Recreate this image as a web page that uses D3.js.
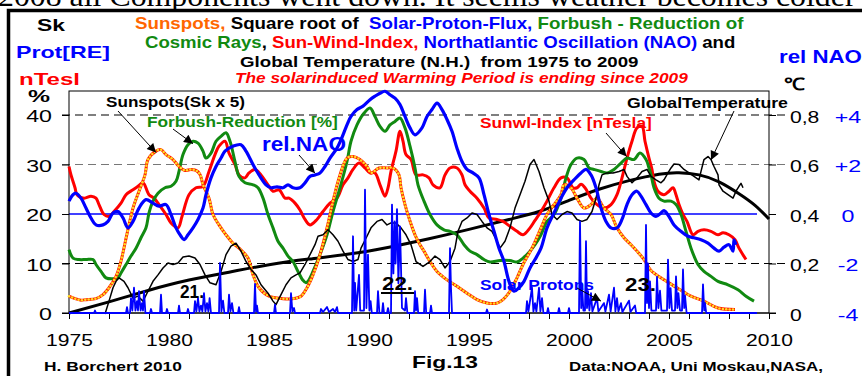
<!DOCTYPE html>
<html><head><meta charset="utf-8">
<script src="https://cdn.jsdelivr.net/npm/d3@7"></script>
<style>
html,body{margin:0;padding:0;background:#fff;}
svg{display:block;}
</style>
</head><body>
<svg id="chart" width="862" height="376"></svg>
<script>
// ---- series: [year, value] ----
// Sunspots (Sk x 5), left axis %
const sunspots = [[1975.0,3.4],[1975.3,2.9],[1975.6,2.6],[1975.85,2.7],[1976.35,2.9],[1976.7,3.7],[1977.0,5.1],[1977.35,7.4],[1977.6,10.5],[1977.9,16.0],[1978.2,21.2],[1978.5,24.6],[1978.8,27.9],[1978.95,31.0],[1979.35,32.7],[1979.6,33.0],[1979.85,32.0],[1980.2,31.0],[1980.5,29.6],[1980.8,28.8],[1981.1,29.0],[1981.35,28.8],[1981.55,28.0],[1981.7,25.9],[1982.0,23.2],[1982.2,19.9],[1982.5,17.8],[1982.85,15.8],[1983.2,14.1],[1983.5,13.1],[1983.95,11.1],[1984.2,7.7],[1984.5,5.1],[1985.0,3.4],[1985.7,2.9],[1986.2,2.9],[1986.6,3.4],[1986.9,5.1],[1987.2,7.7],[1987.55,11.8],[1987.9,17.2],[1988.2,22.6],[1988.55,27.9],[1988.9,31.3],[1989.2,31.6],[1989.55,31.0],[1989.9,29.6],[1990.1,28.3],[1990.5,29.3],[1990.9,29.3],[1991.2,29.3],[1991.5,27.9],[1991.6,25.3],[1991.8,21.9],[1992.0,19.2],[1992.3,15.8],[1992.55,13.8],[1992.75,12.5],[1993.05,10.4],[1993.4,8.4],[1993.9,6.7],[1994.4,5.4],[1994.9,4.0],[1995.4,2.7],[1995.9,2.0],[1996.4,2.0],[1996.7,2.7],[1997.05,4.4],[1997.4,7.1],[1997.7,9.8],[1998.15,13.1],[1998.6,17.2],[1998.9,19.9],[1999.25,21.9],[1999.6,23.9],[1999.75,25.9],[2000.1,25.3],[2000.4,23.2],[2000.75,21.2],[2001.1,21.9],[2001.4,23.2],[2001.75,21.2],[2002.1,19.9],[2002.4,17.2],[2002.75,15.2],[2003.1,13.8],[2003.4,12.5],[2003.75,10.8],[2004.1,8.6],[2004.75,6.7],[2005.4,5.1],[2006.1,3.4],[2006.75,2.4],[2007.45,1.0],[2008.3,0.7]];

// Sun-Wind-Index [nTesla], left axis
const sunWind = [[1975.0,29.6],[1975.1,27.9],[1975.3,25.3],[1975.4,23.9],[1975.75,23.2],[1976.1,23.6],[1976.35,23.2],[1976.5,21.9],[1976.75,19.9],[1977.0,19.5],[1977.25,20.5],[1977.6,22.2],[1977.85,23.9],[1978.2,24.9],[1978.45,25.6],[1978.7,26.3],[1979.0,23.9],[1979.25,23.2],[1979.5,21.9],[1979.85,19.9],[1980.1,18.2],[1980.45,17.2],[1980.65,19.5],[1981.0,23.9],[1981.35,25.3],[1981.7,25.6],[1982.0,28.6],[1982.3,32.0],[1982.5,33.7],[1982.8,34.7],[1983.0,32.3],[1983.3,30.0],[1983.5,27.9],[1983.8,27.3],[1984.0,28.3],[1984.3,29.0],[1984.6,27.9],[1984.95,25.9],[1985.2,24.6],[1985.5,24.9],[1985.8,23.2],[1986.0,23.2],[1986.3,22.2],[1986.55,20.8],[1986.8,18.9],[1987.05,17.8],[1987.4,18.9],[1987.7,20.5],[1988.05,22.2],[1988.4,23.2],[1988.7,25.9],[1988.95,27.3],[1989.2,29.0],[1989.5,30.3],[1989.8,29.3],[1990.05,28.3],[1990.3,28.3],[1990.55,25.9],[1990.8,23.6],[1990.95,25.3],[1991.1,28.6],[1991.35,32.7],[1991.55,36.7],[1991.7,34.7],[1991.85,32.0],[1992.1,31.0],[1992.35,27.9],[1992.7,27.9],[1993.0,27.3],[1993.2,25.9],[1993.55,25.3],[1993.8,27.9],[1994.05,29.3],[1994.4,29.3],[1994.65,27.9],[1994.8,25.9],[1995.05,24.6],[1995.4,23.2],[1995.75,21.2],[1996.0,19.2],[1996.4,18.9],[1996.7,18.5],[1997.05,17.5],[1997.4,16.5],[1997.7,15.8],[1998.05,17.2],[1998.3,18.7],[1998.6,20.5],[1998.9,22.6],[1999.25,25.3],[1999.6,27.3],[1999.9,27.3],[2000.2,25.3],[2000.4,25.3],[2000.6,26.0],[2000.8,25.3],[2001.1,23.2],[2001.4,21.9],[2001.75,21.2],[2002.1,21.9],[2002.4,23.9],[2002.65,27.3],[2002.9,31.3],[2003.15,34.7],[2003.4,37.4],[2003.65,37.7],[2003.8,34.7],[2004.0,31.3],[2004.15,29.0],[2004.25,26.6],[2004.45,24.6],[2004.75,23.9],[2005.0,24.6],[2005.2,25.3],[2005.35,23.9],[2005.5,21.9],[2005.7,19.9],[2005.9,18.5],[2006.2,15.8],[2006.45,16.5],[2006.75,16.8],[2007.1,16.5],[2007.45,15.8],[2007.7,16.2],[2008.0,15.8],[2008.3,14.8],[2008.5,13.1],[2008.85,10.8]];

// Forbush reduction of cosmic rays [%]
const forbush = [[1975.0,12.8],[1975.2,11.1],[1975.5,10.8],[1975.85,10.8],[1976.2,10.8],[1976.35,9.8],[1976.6,8.4],[1976.85,7.1],[1977.2,6.9],[1977.45,7.1],[1977.6,8.1],[1977.85,9.8],[1978.1,11.5],[1978.35,13.1],[1978.6,15.2],[1978.85,17.2],[1979.0,20.2],[1979.2,22.6],[1979.45,24.2],[1979.8,25.3],[1980.1,25.6],[1980.35,26.6],[1980.5,28.6],[1980.7,32.0],[1980.95,34.0],[1981.2,34.7],[1981.45,34.3],[1981.7,32.7],[1981.85,31.3],[1982.1,32.3],[1982.35,34.7],[1982.6,35.7],[1982.85,36.4],[1983.05,34.7],[1983.3,30.6],[1983.5,27.6],[1983.8,26.3],[1984.2,25.9],[1984.45,25.3],[1984.7,23.2],[1984.95,19.9],[1985.2,17.2],[1985.45,14.5],[1985.7,13.1],[1985.95,11.5],[1986.2,10.4],[1986.45,8.4],[1986.7,6.6],[1986.85,6.1],[1986.95,6.4],[1987.2,8.4],[1987.55,11.8],[1987.9,15.8],[1988.2,20.5],[1988.55,25.3],[1988.9,30.6],[1989.1,34.7],[1989.4,38.0],[1989.7,40.1],[1990.05,41.4],[1990.3,39.7],[1990.55,37.7],[1990.8,36.7],[1991.05,38.0],[1991.3,38.7],[1991.55,39.4],[1991.8,37.4],[1992.05,33.7],[1992.3,29.3],[1992.45,25.9],[1992.75,22.6],[1993.05,19.9],[1993.4,17.8],[1993.75,16.8],[1994.05,16.5],[1994.4,15.8],[1994.75,13.8],[1995.05,12.5],[1995.4,11.8],[1995.75,10.8],[1996.05,10.3],[1996.55,10.6],[1997.05,10.6],[1997.4,10.3],[1997.7,11.1],[1998.05,12.5],[1998.3,13.8],[1998.6,15.8],[1998.9,18.5],[1999.25,19.9],[1999.6,23.2],[1999.85,27.3],[2000.1,30.0],[2000.4,31.3],[2000.75,31.0],[2001.0,29.3],[2001.25,29.0],[2001.6,28.6],[2001.9,28.3],[2002.25,29.0],[2002.6,30.3],[2002.9,31.3],[2003.25,31.0],[2003.55,32.3],[2003.85,31.0],[2004.0,29.3],[2004.1,27.9],[2004.25,25.3],[2004.5,23.2],[2004.75,22.6],[2005.1,22.6],[2005.35,21.9],[2005.6,19.9],[2005.85,16.5],[2006.1,13.1],[2006.45,9.8],[2006.75,8.4],[2007.1,7.4],[2007.45,6.4],[2007.95,5.7],[2008.45,4.7],[2008.85,3.4],[2009.25,2.4]];

// North Atlantic Oscillation, relative units (right blue axis)
const nao = [[1975.0,0.52],[1975.2,0.78],[1975.35,0.84],[1975.6,0.64],[1975.85,0.24],[1976.1,-0.16],[1976.35,-0.44],[1976.7,-0.44],[1976.95,-0.3],[1977.2,0.04],[1977.45,0.1],[1977.7,-0.16],[1977.95,-0.56],[1978.2,-0.3],[1978.5,0.24],[1978.85,0.58],[1979.2,0.44],[1979.5,0.32],[1979.85,0.38],[1980.1,-0.02],[1980.35,-0.56],[1980.6,-0.9],[1980.75,-1.04],[1980.95,-0.84],[1981.2,-0.56],[1981.45,-0.22],[1981.7,0.24],[1981.85,0.78],[1982.1,1.46],[1982.35,1.92],[1982.6,2.26],[1982.8,2.54],[1983.2,2.74],[1983.6,2.8],[1983.85,2.54],[1984.2,2.0],[1984.5,1.58],[1984.85,1.18],[1985.1,1.06],[1985.4,1.1],[1985.7,1.06],[1985.95,1.18],[1986.2,1.06],[1986.55,1.06],[1986.8,1.26],[1987.05,1.52],[1987.3,1.58],[1987.55,1.66],[1987.8,1.92],[1988.05,2.26],[1988.4,2.66],[1988.6,3.0],[1988.9,3.6],[1989.1,3.94],[1989.4,4.22],[1989.7,4.36],[1990.05,4.62],[1990.3,4.76],[1990.55,4.88],[1990.8,4.96],[1991.05,4.82],[1991.3,4.68],[1991.55,4.42],[1991.8,3.94],[1992.05,3.48],[1992.3,3.2],[1992.65,3.48],[1992.9,3.94],[1993.15,4.22],[1993.4,4.48],[1993.65,4.22],[1993.9,3.82],[1994.15,3.34],[1994.4,2.66],[1994.65,2.12],[1994.9,1.8],[1995.2,1.66],[1995.5,1.46],[1995.75,0.78],[1996.0,-0.02],[1996.25,-0.7],[1996.5,-1.38],[1996.75,-1.92],[1997.0,-2.72],[1997.25,-3.12],[1997.5,-2.98],[1997.75,-2.72],[1998.05,-2.18],[1998.3,-1.84],[1998.6,-1.38],[1998.9,-0.56],[1999.25,0.04],[1999.6,0.64],[1999.9,1.06],[2000.25,1.38],[2000.6,1.66],[2000.85,1.8],[2001.1,1.58],[2001.35,1.06],[2001.6,0.24],[2001.85,-0.3],[2002.1,-0.56],[2002.4,-0.56],[2002.65,-0.22],[2002.9,0.38],[2003.15,0.78],[2003.4,0.92],[2003.6,0.72],[2003.85,0.38],[2004.1,0.04],[2004.35,-0.1],[2004.6,0.04],[2004.75,0.14],[2005.0,-0.1],[2005.25,-0.44],[2005.6,-0.7],[2005.95,-0.9],[2006.25,-0.96],[2006.6,-1.04],[2006.95,-1.18],[2007.25,-1.38],[2007.5,-1.5],[2007.75,-1.34],[2008.0,-1.24],[2008.2,-1.5],[2008.25,-1.04],[2008.35,-1.24]];

// Global temperature N.H. [°C]
const temperature = [[1976.8,-0.004],[1977.0,0.048],[1977.2,0.102],[1977.35,0.128],[1977.5,0.142],[1977.75,0.128],[1977.95,0.102],[1978.2,0.06],[1978.45,0.068],[1978.7,0.048],[1978.95,0.088],[1979.2,0.128],[1979.45,0.154],[1979.7,0.182],[1979.95,0.202],[1980.2,0.196],[1980.45,0.202],[1980.7,0.226],[1981.0,0.23],[1981.3,0.222],[1981.55,0.196],[1981.8,0.154],[1982.05,0.122],[1982.35,0.114],[1982.6,0.168],[1982.85,0.236],[1983.1,0.27],[1983.35,0.282],[1983.6,0.25],[1983.85,0.208],[1984.1,0.176],[1984.35,0.154],[1984.6,0.114],[1984.95,0.08],[1985.2,0.048],[1985.35,0.034],[1985.6,0.074],[1985.85,0.114],[1986.1,0.142],[1986.35,0.154],[1986.55,0.162],[1986.8,0.196],[1987.05,0.236],[1987.3,0.276],[1987.45,0.31],[1987.7,0.316],[1987.95,0.336],[1988.2,0.316],[1988.45,0.29],[1988.7,0.25],[1988.95,0.216],[1989.2,0.208],[1989.45,0.216],[1989.6,0.262],[1989.9,0.31],[1990.1,0.344],[1990.4,0.37],[1990.65,0.378],[1990.9,0.356],[1991.1,0.364],[1991.35,0.364],[1991.6,0.344],[1991.85,0.316],[1992.1,0.276],[1992.35,0.208],[1992.7,0.188],[1993.05,0.208],[1993.3,0.23],[1993.55,0.216],[1993.8,0.182],[1994.05,0.208],[1994.3,0.262],[1994.45,0.33],[1994.65,0.37],[1994.9,0.384],[1995.15,0.404],[1995.4,0.398],[1995.65,0.37],[1995.9,0.344],[1996.15,0.33],[1996.4,0.29],[1996.55,0.262],[1996.8,0.29],[1997.05,0.344],[1997.3,0.424],[1997.55,0.478],[1997.8,0.532],[1998.05,0.6],[1998.25,0.62],[1998.5,0.572],[1998.75,0.506],[1999.0,0.452],[1999.15,0.398],[1999.4,0.378],[1999.65,0.398],[1999.9,0.41],[2000.15,0.404],[2000.4,0.378],[2000.65,0.37],[2000.9,0.378],[2001.15,0.41],[2001.35,0.464],[2001.5,0.518],[2001.65,0.558],[2001.9,0.566],[2002.2,0.566],[2002.5,0.572],[2002.75,0.58],[2002.9,0.552],[2003.15,0.526],[2003.4,0.546],[2003.65,0.572],[2003.9,0.58],[2004.1,0.552],[2004.35,0.538],[2004.6,0.526],[2004.75,0.538],[2004.95,0.566],[2005.1,0.586],[2005.25,0.602],[2005.5,0.6],[2005.75,0.58],[2006.0,0.566],[2006.25,0.552],[2006.5,0.538],[2006.6,0.572],[2006.75,0.62],[2006.95,0.632],[2007.1,0.62],[2007.25,0.592],[2007.45,0.558],[2007.5,0.518],[2007.7,0.492],[2007.95,0.478],[2008.2,0.464],[2008.35,0.492],[2008.5,0.512],[2008.6,0.524],[2008.7,0.506]];

// Temperature trend curve [°C]
const tempTrend = [[1975.0,0.0],[1977.0,0.045],[1979.0,0.092],[1981.0,0.133],[1983.0,0.165],[1985.0,0.195],[1987.0,0.218],[1989.0,0.238],[1991.0,0.266],[1993.0,0.3],[1995.0,0.338],[1997.0,0.378],[1998.5,0.41],[2000.0,0.455],[2001.5,0.5],[2003.0,0.535],[2004.5,0.561],[2005.5,0.567],[2006.5,0.558],[2007.5,0.53],[2008.5,0.482],[2009.3,0.435],[2010.0,0.38]];

// Solar proton flux (square root), left axis
const protons = [[1975.0,0],[1976.25,0],[1976.3,0.5],[1976.35,0],[1977.85,0],[1977.9,1.2],[1977.95,0],[1978.05,0],[1978.1,3.0],[1978.17,0.5],[1978.25,5.1],[1978.32,0.5],[1978.4,2.4],[1978.45,0.5],[1978.5,4.4],[1978.58,0.5],[1978.65,2.0],[1978.7,0.5],[1978.75,4.4],[1978.82,0],[1979.05,0],[1979.1,0.8],[1979.15,0],[1979.55,0],[1979.6,3.7],[1979.65,0],[1979.85,0],[1979.9,0.8],[1979.95,0],[1980.45,0],[1980.5,1.5],[1980.55,0],[1980.9,0],[1980.95,0.8],[1981.0,0],[1981.25,0],[1981.3,2.4],[1981.37,0.3],[1981.45,3.0],[1981.52,0.3],[1981.6,1.5],[1981.67,0.3],[1981.75,4.0],[1981.82,0.3],[1981.9,2.0],[1981.97,0.3],[1982.03,3.0],[1982.1,0],[1982.5,0],[1982.55,10.1],[1982.62,0.3],[1982.7,2.5],[1982.77,0],[1982.95,0],[1983.0,3.7],[1983.07,0.3],[1983.15,2.0],[1983.22,0],[1983.45,0],[1983.5,1.2],[1983.55,0],[1984.25,0],[1984.3,5.9],[1984.35,0.3],[1984.4,1.5],[1984.45,0],[1985.25,0],[1985.3,1.7],[1985.35,0],[1986.05,0],[1986.1,4.0],[1986.17,0.3],[1986.25,1.0],[1986.3,0],[1987.55,0],[1987.6,0.8],[1987.7,0.2],[1987.9,1.2],[1988.0,0.2],[1988.2,0.8],[1988.3,0.2],[1988.4,1.2],[1988.45,0],[1989.15,0],[1989.2,15.5],[1989.26,0.5],[1989.3,6.1],[1989.36,0.5],[1989.5,7.7],[1989.56,0.5],[1989.75,0.5],[1989.8,24.9],[1989.87,1],[1989.95,11.8],[1990.02,0.5],[1990.08,2.4],[1990.14,0],[1990.4,0],[1990.45,4.4],[1990.52,0],[1990.65,0],[1990.7,2.0],[1990.75,0],[1990.9,0],[1990.95,1.0],[1991.0,0],[1991.1,0],[1991.15,21.9],[1991.22,8],[1991.28,18.5],[1991.33,10],[1991.4,21.0],[1991.47,6],[1991.55,17.5],[1991.65,1],[1991.8,0.5],[1991.85,3.0],[1991.92,0],[1992.25,0],[1992.3,4.4],[1992.35,0.5],[1992.4,3.0],[1992.46,0],[1992.75,0],[1992.8,4.7],[1992.86,0],[1993.05,0],[1993.1,1.5],[1993.15,0],[1994.0,0],[1994.05,13.1],[1994.1,5],[1994.15,0],[1995.85,0],[1995.9,0.7],[1995.95,0],[1997.85,0],[1997.9,2.4],[1997.97,0.3],[1998.15,5.1],[1998.22,0.3],[1998.3,2.0],[1998.37,0.3],[1998.5,5.1],[1998.57,0.3],[1998.65,3.0],[1998.72,0],[1998.9,0],[1998.95,1.0],[1999.0,0],[1999.45,0],[1999.5,1.0],[1999.55,0],[1999.95,0],[2000.0,1.0],[2000.05,0],[2000.5,0],[2000.55,18.5],[2000.61,1],[2000.66,5],[2000.72,0.5],[2000.8,0.5],[2000.85,14.5],[2000.9,1],[2000.95,4.4],[2001.02,0.5],[2001.1,4.0],[2001.17,0.3],[2001.4,3.0],[2001.47,0.3],[2001.75,2.0],[2001.82,0.3],[2002.0,3.7],[2002.08,0.3],[2002.25,5.1],[2002.32,0.3],[2002.4,3.0],[2002.47,0.3],[2002.6,2.0],[2002.67,0.2],[2003.0,2.5],[2003.07,0.2],[2003.3,1.5],[2003.36,0],[2003.8,0],[2003.85,17.8],[2003.9,2],[2003.95,10],[2004.0,1],[2004.05,6.4],[2004.12,0.5],[2004.35,0.5],[2004.4,7.3],[2004.47,1],[2004.55,4.5],[2004.62,0.5],[2004.9,0.5],[2004.95,10.8],[2005.02,1],[2005.08,5],[2005.15,0.5],[2005.3,0.5],[2005.35,7.4],[2005.42,1],[2005.47,4],[2005.55,0.5],[2005.65,0.5],[2005.7,8.8],[2005.76,1],[2005.8,3.5],[2005.88,0],[2006.65,0],[2006.7,5.8],[2006.76,0.5],[2006.8,2],[2006.86,0],[2009.4,0]];

// ---- axes ----
const leftTicks = [0, 10, 20, 30, 40];
const tempTicks = [0, 0.2, 0.4, 0.6, 0.8];
const naoTicks = [-4, -2, 0, 2, 4];
const yearTicks = d3.range(1975, 2011);
const yearLabels = [1975, 1980, 1985, 1990, 1995, 2000, 2005, 2010];

const SANS = '"Liberation Sans", Arial, Helvetica, sans-serif';
const SERIF = '"Liberation Serif", "Times New Roman", serif';
const C = {blue: "#0000ff", red: "#ff0000", green: "#118a11", orange: "#ff6600", black: "#000"};

const svg = d3.select("#chart");

const x = d3.scaleLinear().domain([1975, 2010]).range([69, 769]);
const y = d3.scaleLinear().domain([0, 40]).range([313, 115]);
const yT = d3.scaleLinear().domain([0, 0.8]).range([313, 115]);
const yN = d3.scaleLinear().domain([-4, 4]).range([313, 115]);

// text helper: fits a (multi-coloured) string into a given width by horizontal scaling
function label(parent, x0, y0, parts, o) {
  const t = parent.append("text")
    .attr("font-family", o.family || SANS)
    .attr("font-size", o.size)
    .attr("font-weight", o.weight || "bold")
    .attr("font-style", o.style || "normal")
    .style("white-space", "pre");
  if (typeof parts === "string") parts = [[parts, o.fill || C.black]];
  parts.forEach(([s, c]) => t.append("tspan").attr("fill", c).text(s));
  const w = t.node().getComputedTextLength();
  const sx = o.sx || (o.width ? o.width / w : 1);
  let left = x0;
  if (o.anchor === "end") left = x0 - w * sx;
  else if (o.anchor === "middle") left = x0 - w * sx / 2;
  t.attr("transform", `translate(${left},${y0}) scale(${sx},1)`);
  return t;
}

// headline above the frame (runs off the top)
label(svg, -2, 6, "2008 all Components went down. It seems weather becomes colder",
  {family: SERIF, size: 30, weight: "normal", width: 858});

// outer frame
svg.append("path").attr("d", "M8.5,376 V10.5 H862")
  .attr("fill", "none").attr("stroke", "#000").attr("stroke-width", 3.5);

// headings
label(svg, 135, 29, [["Sunspots,", C.orange], [" Square root of  ", C.black], ["Solar-Proton-Flux,", C.blue], [" Forbush - Reduction of", C.green]], {size: 16, width: 609});
label(svg, 145, 47.5, [["Cosmic Rays", C.green], [", ", C.black], ["Sun-Wind-Index,", C.red], [" Northatlantic Oscillation (NAO)", C.blue], [" and", C.black]], {size: 16, width: 591});
label(svg, 240, 66.5, "Global Temperature (N.H.)  from 1975 to 2009", {size: 15, width: 399});
label(svg, 235, 82.5, "The solarinduced Warming Period is ending since 2009", {size: 14, style: "italic", fill: C.red, width: 453});

// axis titles
label(svg, 37, 30.5, "Sk", {size: 17, width: 28});
label(svg, 16, 58, "Prot[RE]", {size: 17, fill: C.blue, width: 94});
label(svg, 19, 84.5, "nTesl", {size: 17, fill: C.red, width: 61});
label(svg, 28, 102, "%", {size: 16, width: 22});
label(svg, 779, 63, "rel NAO", {size: 18, fill: C.blue, width: 83});
label(svg, 784, 90, "\u2103", {size: 17, width: 21});

// gridlines
const grid = svg.append("g");
[[40, "#000"], [30, "#777"], [10, "#000"]].forEach(([v, col]) => {
  grid.append("line").attr("x1", 62).attr("x2", 785).attr("y1", y(v)).attr("y2", y(v))
    .attr("stroke", col).attr("stroke-width", 1.2).attr("stroke-dasharray", "8,5");
});
// NAO zero line
svg.append("line").attr("x1", x(1975)).attr("x2", x(2009.4)).attr("y1", yN(0)).attr("y2", yN(0))
  .attr("stroke", C.blue).attr("stroke-width", 1.6);

// plot frame
svg.append("rect").attr("x", 69).attr("y", 91).attr("width", 700).attr("height", 222)
  .attr("fill", "none").attr("stroke", "#000").attr("stroke-width", 1);

// left axis
const gL = svg.append("g").attr("transform", "translate(69,0)")
  .call(d3.axisLeft(y).tickValues(leftTicks).tickSize(7).tickFormat(d3.format("d")));
gL.select(".domain").remove();
gL.selectAll("text").attr("x", 0).attr("dy", null).attr("text-anchor", "end")
  .attr("font-family", SANS).attr("font-size", 16).attr("fill", "#000")
  .attr("transform", "translate(-17,6.5) scale(1.45,1)");

// right temperature axis
const tFmt = d => d === 0 ? "0" : d.toFixed(1).replace(".", ",");
const gR = svg.append("g").attr("transform", "translate(769,0)")
  .call(d3.axisRight(yT).tickValues(tempTicks).tickSize(7).tickFormat(tFmt));
gR.select(".domain").remove();
gR.selectAll("text").attr("x", 0).attr("dy", null).attr("text-anchor", "start")
  .attr("font-family", SANS).attr("font-size", 16).attr("fill", "#000")
  .attr("transform", "translate(21,7) scale(1.32,1)");

// NAO axis labels
const nFmt = d => d > 0 ? "+" + d : d < 0 ? "-" + (-d) : "0";
const gN = svg.append("g").attr("transform", "translate(769,0)")
  .call(d3.axisRight(yN).tickValues(naoTicks).tickSize(0).tickFormat(nFmt));
gN.select(".domain").remove();
gN.selectAll("line").remove();
gN.selectAll("text").attr("x", 0).attr("dy", null).attr("text-anchor", "middle")
  .attr("font-family", SANS).attr("font-size", 16).attr("fill", C.blue)
  .attr("transform", "translate(79,7) scale(1.45,1)");

// bottom axis
const gB = svg.append("g").attr("transform", "translate(0,313)")
  .call(d3.axisBottom(x).tickValues(yearTicks).tickSize(6)
    .tickFormat(d => yearLabels.includes(d) ? String(d) : ""));
gB.select(".domain").attr("d", "M62,0H776");
gB.selectAll("text").attr("y", 0).attr("dy", null).attr("text-anchor", "middle")
  .attr("font-family", SANS).attr("font-size", 17).attr("fill", "#000")
  .attr("transform", "translate(0,33) scale(1.24,1)");

// ---- series ----
const lineL = d3.line().x(d => x(d[0])).y(d => y(d[1]));
const lineT = d3.line().x(d => x(d[0])).y(d => yT(d[1]));
const lineN = d3.line().x(d => x(d[0])).y(d => yN(d[1]));
const smooth = d3.curveCatmullRom.alpha(0.5);

const plot = svg.append("g");

plot.append("path").datum(tempTrend).attr("d", lineT.curve(d3.curveNatural))
  .attr("fill", "none").attr("stroke", "#000").attr("stroke-width", 3);

plot.append("path").datum(sunWind).attr("d", d3.line().x(d => x(d[0])).y(d => y(d[1])).curve(smooth))
  .attr("fill", "none").attr("stroke", C.red).attr("stroke-width", 3).attr("stroke-linejoin", "round");

plot.append("path").datum(forbush).attr("d", d3.line().x(d => x(d[0])).y(d => y(d[1])).curve(smooth))
  .attr("fill", "none").attr("stroke", C.green).attr("stroke-width", 3).attr("stroke-linejoin", "round");

// sunspots: red line threaded with yellow beads
const spotPath = plot.append("path").datum(sunspots)
  .attr("d", d3.line().x(d => x(d[0])).y(d => y(d[1])).curve(smooth))
  .attr("fill", "none").attr("stroke", "#ff2200").attr("stroke-width", 3);
const sp = spotPath.node(), spLen = sp.getTotalLength();
const beads = d3.range(0, spLen, 3.4).map(l => sp.getPointAtLength(l));
plot.append("g").selectAll("circle").data(beads).join("circle")
  .attr("cx", p => p.x).attr("cy", p => p.y).attr("r", 1.25)
  .attr("fill", "#ffdd22");

plot.append("path").datum(temperature).attr("d", d3.line().x(d => x(d[0])).y(d => yT(d[1])))
  .attr("fill", "none").attr("stroke", "#000").attr("stroke-width", 1.5).attr("stroke-linejoin", "round");

plot.append("path").datum(nao).attr("d", lineN.curve(smooth))
  .attr("fill", "none").attr("stroke", C.blue).attr("stroke-width", 3.2).attr("stroke-linejoin", "round");

plot.append("path").datum(protons).attr("d", lineL)
  .attr("fill", "none").attr("stroke", C.blue).attr("stroke-width", 1.8).attr("stroke-linejoin", "round");

// ---- annotations ----
const defs = svg.append("defs");
defs.append("marker").attr("id", "arrow").attr("viewBox", "0 0 10 10")
  .attr("refX", 10).attr("refY", 5).attr("markerWidth", 11).attr("markerHeight", 9)
  .attr("markerUnits", "userSpaceOnUse").attr("orient", "auto")
  .append("path").attr("d", "M0,0L10,5L0,10z").attr("fill", "#000");

function arrow(x1, y1, x2, y2) {
  svg.append("line").attr("x1", x1).attr("y1", y1).attr("x2", x2).attr("y2", y2)
    .attr("stroke", "#000").attr("stroke-width", 1).attr("marker-end", "url(#arrow)");
}

label(svg, 106, 107, "Sunspots(Sk x 5)", {size: 15, width: 139});
arrow(118, 111, x(1979.35), y(32.4));
label(svg, 147, 127, "Forbush-Reduction [%]", {size: 15, fill: C.green, width: 191});
arrow(173, 129, x(1981.2), y(34.2));
label(svg, 262, 151, "rel.NAO", {size: 20, fill: C.blue, width: 84});
arrow(299, 155, x(1987.3), yN(1.65));
label(svg, 480, 128, "Sunwl-Index [nTesla]", {size: 15, fill: C.red, width: 172});
arrow(606, 133, x(2002.88), y(31.6));
label(svg, 627, 108, "GlobalTemperature", {size: 14.5, width: 161});
arrow(734, 111, x(2007.1), yT(0.618));
label(svg, 480, 290, "Solar Protons", {size: 14.5, fill: C.blue, width: 114});
arrow(577, 288, x(2001.6), y(2.4));

label(svg, 180, 298, "21.", {size: 19, width: 24});
label(svg, 382, 290, "22.", {size: 19, width: 31});
svg.append("line").attr("x1", 381).attr("x2", 414).attr("y1", 293).attr("y2", 293)
  .attr("stroke", "#000").attr("stroke-width", 2);
label(svg, 625, 291, "23.", {size: 19, width: 31});

// footer
label(svg, 44, 371, "H. Borchert 2010", {size: 12.5, width: 138});
label(svg, 412, 368, "Fig.13", {size: 16, width: 66});
label(svg, 569, 371, "Data:NOAA, Uni Moskau,NASA,", {size: 12.5, width: 254});
</script>
</body></html>
